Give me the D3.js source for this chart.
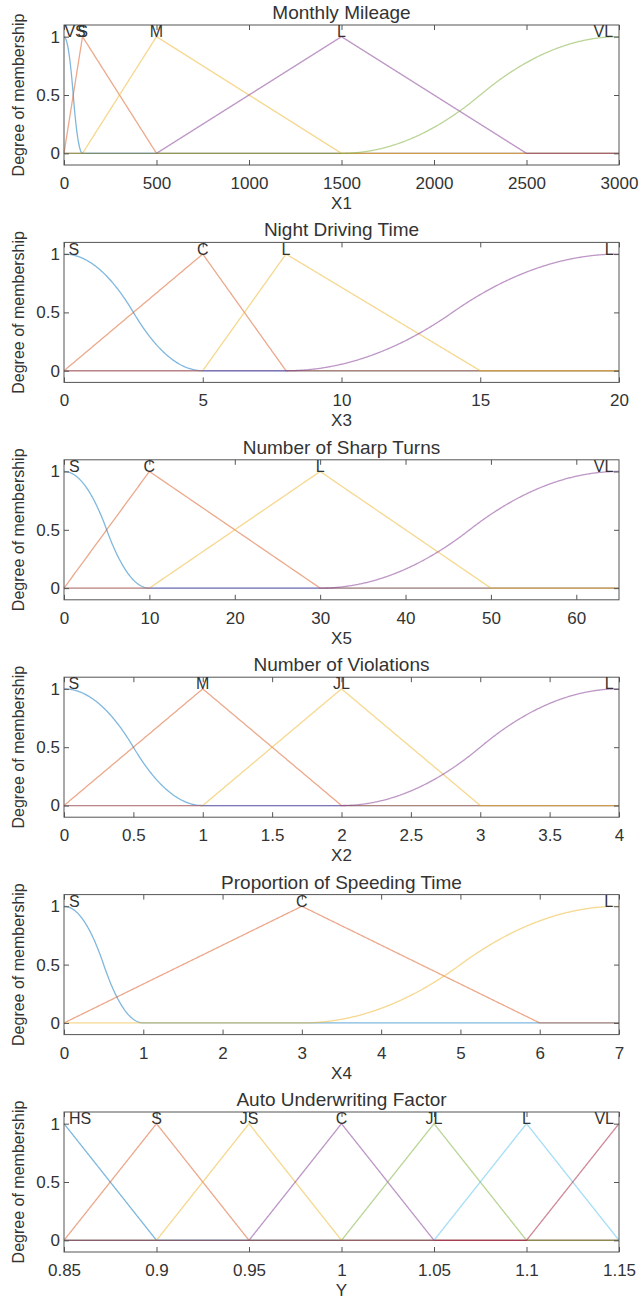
<!DOCTYPE html>
<html>
<head>
<meta charset="utf-8">
<script src="https://cdn.jsdelivr.net/npm/d3@7"></script>
<style>
  body { margin: 0; background: #fff; }
  text { font-family: "Liberation Sans", Arial, sans-serif; fill: #333; }
</style>
</head>
<body>
<div id="chart"></div>
<script>
// Panel titles, axis labels and ranges.
const titles = ["Monthly Mileage", "Night Driving Time", "Number of Sharp Turns",
  "Number of Violations", "Proportion of Speeding Time", "Auto Underwriting Factor"];
const xLabels = ["X1", "X3", "X5", "X2", "X4", "Y"];
const xDomains = [[0, 3000], [0, 20], [0, 65], [0, 4], [0, 7], [0.85, 1.15]];
const xTicks = [
  [0, 500, 1000, 1500, 2000, 2500, 3000],
  [0, 5, 10, 15, 20],
  [0, 10, 20, 30, 40, 50, 60],
  [0, 0.5, 1, 1.5, 2, 2.5, 3, 3.5, 4],
  [0, 1, 2, 3, 4, 5, 6, 7],
  [0.85, 0.9, 0.95, 1, 1.05, 1.1, 1.15]
];
const yTicks = [0, 0.5, 1];

// Membership functions of each panel: name, type, parameters, where the name sits.
const mileageMfs = [
  {name: "VS", type: "zmf", params: [0, 100], labelAt: 60},
  {name: "S", type: "trimf", params: [0, 100, 500], labelAt: 100},
  {name: "M", type: "trimf", params: [100, 500, 1500], labelAt: 500},
  {name: "L", type: "trimf", params: [500, 1500, 2500], labelAt: 1500},
  {name: "VL", type: "smf", params: [1500, 3000], labelAt: 2915}
];
const nightMfs = [
  {name: "S", type: "zmf", params: [0, 5], labelAt: 0.35},
  {name: "C", type: "trimf", params: [0, 5, 8], labelAt: 5},
  {name: "L", type: "trimf", params: [5, 8, 15], labelAt: 8},
  {name: "L", type: "smf", params: [8, 20], labelAt: 19.65}
];
const turnsMfs = [
  {name: "S", type: "zmf", params: [0, 10], labelAt: 1.2},
  {name: "C", type: "trimf", params: [0, 10, 30], labelAt: 10},
  {name: "L", type: "trimf", params: [10, 30, 50], labelAt: 30},
  {name: "VL", type: "smf", params: [30, 65], labelAt: 63.2}
];
const violationMfs = [
  {name: "S", type: "zmf", params: [0, 1], labelAt: 0.07},
  {name: "M", type: "trimf", params: [0, 1, 2], labelAt: 1},
  {name: "JL", type: "trimf", params: [1, 2, 3], labelAt: 2},
  {name: "L", type: "smf", params: [2, 4], labelAt: 3.93}
];
const speedingMfs = [
  {name: "S", type: "zmf", params: [0, 1], labelAt: 0.13},
  {name: "C", type: "trimf", params: [0, 3, 6], labelAt: 3},
  {name: "L", type: "smf", params: [3, 7], labelAt: 6.87}
];
const factorMfs = [
  {name: "HS", type: "trimf", params: [0.8, 0.85, 0.9], labelAt: 0.8587},
  {name: "S", type: "trimf", params: [0.85, 0.9, 0.95], labelAt: 0.9},
  {name: "JS", type: "trimf", params: [0.9, 0.95, 1], labelAt: 0.95},
  {name: "C", type: "trimf", params: [0.95, 1, 1.05], labelAt: 1},
  {name: "JL", type: "trimf", params: [1, 1.05, 1.1], labelAt: 1.05},
  {name: "L", type: "trimf", params: [1.05, 1.1, 1.15], labelAt: 1.1},
  {name: "VL", type: "trimf", params: [1.1, 1.15, 1.2], labelAt: 1.142}
];
const panels = [mileageMfs, nightMfs, turnsMfs, violationMfs, speedingMfs, factorMfs];

// MATLAB line colours.
const colors = ["#0072BD", "#D95319", "#EDB120", "#7E2F8E", "#77AC30", "#4DBEEE", "#A2142F"];

// Membership function shapes, as the fuzzy toolbox defines them.
function evalMf(mf, v) {
  const p = mf.params;
  if (mf.type === "trimf") {
    const [a, b, c] = p;
    const up = b === a ? (v >= a ? 1 : 0) : (v - a) / (b - a);
    const down = c === b ? (v <= c ? 1 : 0) : (c - v) / (c - b);
    return Math.max(Math.min(up, down), 0);
  }
  const [a, b] = p;
  const m = (a + b) / 2;
  let s;
  if (v <= a) s = 0;
  else if (v <= m) s = 2 * Math.pow((v - a) / (b - a), 2);
  else if (v <= b) s = 1 - 2 * Math.pow((v - b) / (b - a), 2);
  else s = 1;
  return mf.type === "smf" ? s : 1 - s;
}

const width = 639, height = 1300;
const left = 64, right = 619, top0 = 25, step = 217.4, boxH = 140;

const svg = d3.select("#chart").append("svg")
  .attr("width", width)
  .attr("height", height);

panels.forEach((mfs, i) => {
  const g = svg.append("g")
    .attr("transform", "translate(0," + (top0 + i * step) + ")");

  const x = d3.scaleLinear().domain(xDomains[i]).range([left, right]);
  const y = d3.scaleLinear().domain([-0.1, 1.1]).range([boxH, 0]);

  // Sample points along the range, plus every breakpoint.
  const [d0, d1] = xDomains[i];
  let xs = d3.range(0, 601).map(k => d0 + (d1 - d0) * k / 600);
  mfs.forEach(mf => mf.params.forEach(p => { if (p >= d0 && p <= d1) xs.push(p); }));
  xs = xs.sort((a, b) => a - b);

  const line = d3.line()
    .x(d => x(d[0]))
    .y(d => y(d[1]));

  g.selectAll(".mf")
    .data(mfs)
    .enter()
    .append("path")
      .attr("class", "mf")
      .attr("d", mf => line(xs.map(v => [v, evalMf(mf, v)])))
      .attr("fill", "none")
      .attr("stroke", (d, j) => colors[j])
      .attr("stroke-opacity", 0.5)
      .attr("stroke-width", 1.3);

  // Axes with inward ticks on all four sides.
  const fmt = d => String(d);
  g.append("g")
    .attr("transform", "translate(0," + boxH + ")")
    .call(d3.axisBottom(x).tickValues(xTicks[i]).tickSize(-5).tickPadding(12).tickFormat(fmt));
  g.append("g")
    .call(d3.axisTop(x).tickValues(xTicks[i]).tickSize(-5).tickFormat(""));
  g.append("g")
    .attr("transform", "translate(" + left + ",0)")
    .call(d3.axisLeft(y).tickValues(yTicks).tickSize(-5).tickPadding(4).tickFormat(fmt));
  g.append("g")
    .attr("transform", "translate(" + right + ",0)")
    .call(d3.axisRight(y).tickValues(yTicks).tickSize(-5).tickFormat(""));

  g.selectAll(".domain").remove();
  g.selectAll(".tick line").attr("stroke", "#555");
  g.selectAll(".tick text")
    .attr("fill", "#333")
    .style("font-size", "17px");

  g.append("rect")
    .attr("x", left)
    .attr("y", 0)
    .attr("width", right - left)
    .attr("height", boxH)
    .attr("fill", "none")
    .attr("stroke", "#555")
    .attr("stroke-width", 1);

  // Names of the membership functions at their peaks.
  g.selectAll(".mfname")
    .data(mfs)
    .enter()
    .append("text")
      .attr("class", "mfname")
      .attr("x", d => x(d.labelAt))
      .attr("y", y(1) + 0.5)
      .attr("text-anchor", "middle")
      .style("font-size", "16px")
      .attr("fill", "#222")
      .text(d => d.name);

  g.append("text")
    .attr("x", (left + right) / 2)
    .attr("y", -6)
    .attr("text-anchor", "middle")
    .style("font-size", "19px")
    .attr("fill", "#222")
    .text(titles[i]);

  g.append("text")
    .attr("x", (left + right) / 2)
    .attr("y", boxH + 44)
    .attr("text-anchor", "middle")
    .style("font-size", "17px")
    .text(xLabels[i]);

  g.append("text")
    .attr("transform", "translate(18," + (boxH / 2) + ") rotate(-90)")
    .attr("text-anchor", "middle")
    .attr("dominant-baseline", "central")
    .style("font-size", "16px")
    .text("Degree of membership");
});
</script>
</body>
</html>
